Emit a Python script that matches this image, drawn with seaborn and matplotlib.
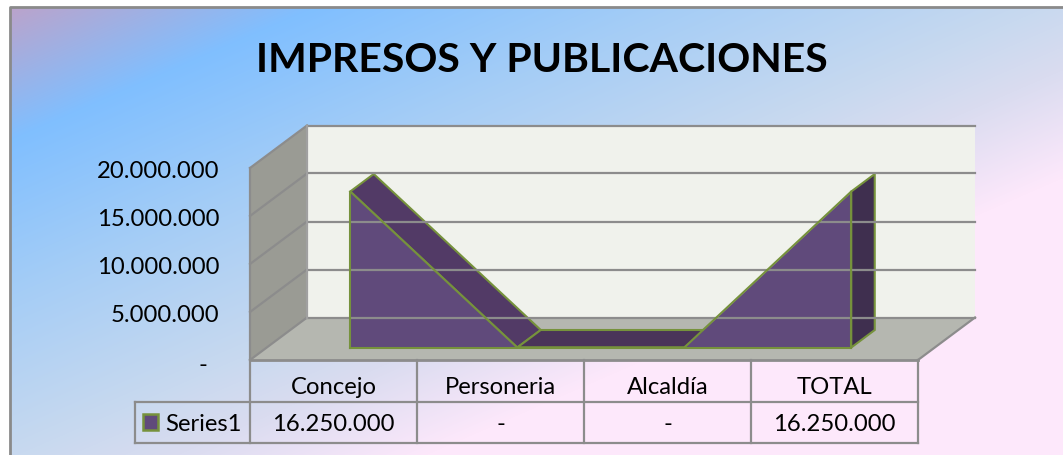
import numpy as np
import matplotlib
matplotlib.use("Agg")
import matplotlib.pyplot as plt
from matplotlib.transforms import ScaledTranslation
import seaborn as sns

categories = ["Concejo", "Personeria", "Alcaldía", "TOTAL"]
values = [16250000, 0, 0, 16250000]
value_labels = ["16.250.000", "-", "-", "16.250.000"]
series_name = "Series1"
y_ticks = [5000000, 10000000, 15000000, 20000000]
y_tick_labels = ["5.000.000", "10.000.000", "15.000.000", "20.000.000"]
title = "IMPRESOS Y PUBLICACIONES"

W, H = 1063, 455
Y_MAX = 20000000
PX_X = 167.0  # pixels per category
PX_Y = 192.0 / Y_MAX
DEPTH_X = 57.0 / PX_X  # oblique offset of the back wall
DEPTH_Y = 42.5 / PX_Y
AREA_FRONT, AREA_BACK = 0.294, 0.706
ROW = 41.5 / PX_Y
FONT = 17.2

GRID = "#8c8c8c"
EDGE = "#76923c"

sns.set_theme(style="white")
plt.rcParams["font.family"] = ["Lato", "DejaVu Sans"]


def proj(x, y, d):
    return x + d * DEPTH_X, y + d * DEPTH_Y


def face(ax, pts, color, edge="none", lw=1.5):
    ax.fill([p[0] for p in pts], [p[1] for p in pts], facecolor=color,
            edgecolor=edge, linewidth=lw, clip_on=False, joinstyle="miter")


def line(ax, a, b, color=GRID, lw=1.6):
    ax.plot([a[0], b[0]], [a[1], b[1]], color=color, lw=lw, clip_on=False,
            solid_capstyle="projecting")


fig = plt.figure(figsize=(W / 100, H / 100), dpi=100, facecolor="white")

# background gradient
bg = fig.add_axes([0, 0, 1, 1])
bg.set_xlim(0, W)
bg.set_ylim(H, 0)
bg.axis("off")
xx, yy = np.meshgrid(np.arange(W), np.arange(H))
t = xx * 0.435 + yy
stops = [11, 144, 300, 462, 532, 640]
cols = np.array([[187, 163, 203], [128, 191, 255], [165, 205, 246],
                 [200, 217, 239], [218, 220, 240], [253, 232, 251]]) / 255
img = np.dstack([np.interp(t, stops, cols[:, i]) for i in range(3)])
img[:7, :] = 1
img[:, :10] = 1
bg.imshow(img, extent=(0, W, H, 0), aspect="auto", interpolation="bilinear")
bg.plot([9.5, 9.5, W], [H, 6.5, 6.5], color="#8a8a8a", lw=2)
bg.text(542, 60, title, ha="center", va="center", fontsize=29.5,
        fontweight="bold", color="black")

# plot area, front plane of the 3D box
ax = fig.add_axes([250 / W, 1 - 360 / H, 668 / W, 192 / H])
ax.patch.set_alpha(0)
ax.set_xlim(0, len(categories))
ax.set_ylim(0, Y_MAX)
for s in ax.spines.values():
    s.set_visible(False)

n = len(categories)
top = Y_MAX

# walls and floor
face(ax, [proj(0, 0, 1), proj(n, 0, 1), proj(n, top, 1), proj(0, top, 1)], "#f0f2ec")
face(ax, [proj(0, 0, 0), proj(0, 0, 1), proj(0, top, 1), proj(0, top, 0)], "#9a9b94")
face(ax, [proj(0, 0, 0), proj(n, 0, 0), proj(n, 0, 1), proj(0, 0, 1)], "#b5b7b0")

for v in [0] + y_ticks:
    if v > 0:
        line(ax, proj(0, v, 1), proj(n, v, 1))
    line(ax, proj(0, v, 0), proj(0, v, 1))
line(ax, proj(0, 0, 1), proj(n, 0, 1))
line(ax, proj(0, 0, 0), proj(0, top, 0))
line(ax, proj(0, 0, 1), proj(0, top, 1), color="#a0a0a0")
line(ax, proj(n, 0, 0), proj(n, 0, 1))

# area series
xs = np.arange(n) + 0.5
fx, fy = proj(xs, np.array(values, dtype=float), AREA_FRONT)
bx, by = proj(xs, np.array(values, dtype=float), AREA_BACK)
base_f = proj(xs, np.zeros(n), AREA_FRONT)[1]
base_b = proj(xs, np.zeros(n), AREA_BACK)[1]

face(ax, [(fx[0], fy[0]), (fx[1], fy[1]), (bx[1], by[1]), (bx[0], by[0])], "#523a66", EDGE)
face(ax, [(fx[1], fy[1]), (fx[2], fy[2]), (bx[2], by[2]), (bx[1], by[1])], "#4a3459", EDGE)
face(ax, [(fx[3], base_f[3]), (fx[3], fy[3]), (bx[3], by[3]), (bx[3], base_b[3])], "#3f2f4f", EDGE)
ax.fill_between(fx, base_f, fy, color="#604a7b", lw=0, clip_on=False)
sns.lineplot(x=fx, y=fy, ax=ax, color=EDGE, lw=1.5, sort=False, legend=False, clip_on=False)
line(ax, (fx[0], base_f[0]), (fx[3], base_f[3]), color=EDGE, lw=1.5)
line(ax, (fx[0], base_f[0]), (fx[0], fy[0]), color=EDGE, lw=1.5)
line(ax, (fx[3], base_f[3]), (fx[3], fy[3]), color=EDGE, lw=1.5)

# y axis
ax.set_yticks(y_ticks)
ax.set_yticklabels(y_tick_labels)
ax.tick_params(axis="y", length=0, pad=22, labelsize=FONT, labelcolor="black")
shift = ScaledTranslation(0, -3 / 100, fig.dpi_scale_trans)
for lab in ax.get_yticklabels():
    lab.set_verticalalignment("center")
    lab.set_transform(lab.get_transform() + shift)
ax.set_xticks([])
ax.text(-47 / PX_X, -5 / PX_Y, "-", ha="center", va="center", fontsize=FONT,
        color="black", clip_on=False)

# data table below the plot
legend_x = -115 / PX_X
for i in range(n + 1):
    line(ax, (i, 0), (i, -2 * ROW))
line(ax, (0, 0), (n, 0), lw=2)
line(ax, (legend_x, -ROW), (n, -ROW))
line(ax, (legend_x, -2 * ROW), (n, -2 * ROW))
line(ax, (legend_x, -ROW), (legend_x, -2 * ROW))
for i, (cat, lab) in enumerate(zip(categories, value_labels)):
    ax.text(i + 0.5, -0.5 * ROW - 7 / PX_Y, cat, ha="center", va="center",
            fontsize=FONT, color="black", clip_on=False)
    ax.text(i + 0.5, -1.5 * ROW - 2 / PX_Y, lab, ha="center", va="center",
            fontsize=FONT, color="black", clip_on=False)

# legend key
kx0, kx1 = -107 / PX_X, -92 / PX_X
ky0, ky1 = -70 / PX_Y, -54 / PX_Y
face(ax, [(kx0, ky0), (kx1, ky0), (kx1, ky1), (kx0, ky1)], "#604a7b", EDGE, lw=1.8)
ax.text(-85 / PX_X, -1.5 * ROW - 2 / PX_Y, series_name, ha="left", va="center",
        fontsize=FONT, color="black", clip_on=False)

fig.savefig("out.png", dpi=100)
plt.close(fig)
